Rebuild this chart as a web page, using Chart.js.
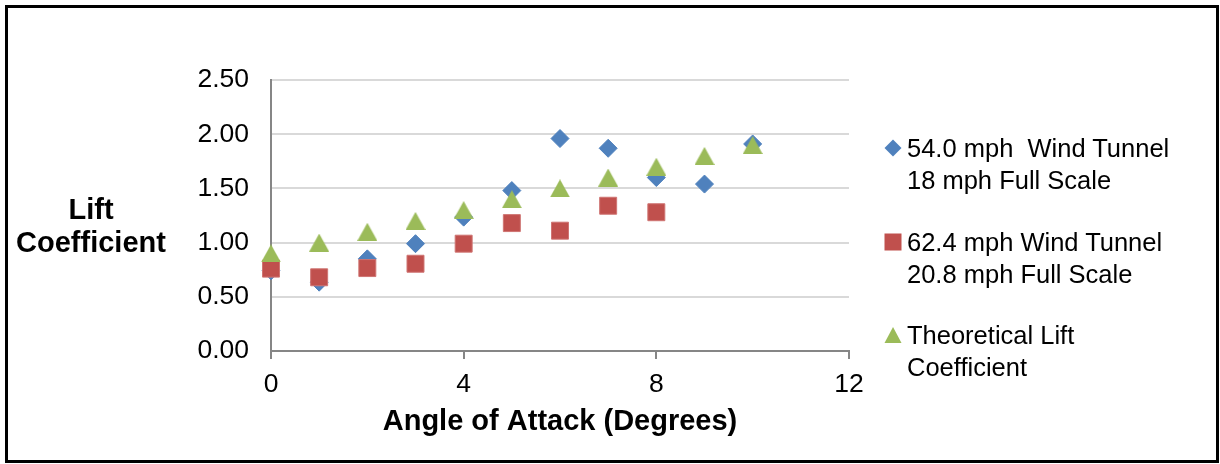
<!DOCTYPE html>
<html>
<head>
<meta charset="utf-8">
<script src="https://cdn.jsdelivr.net/npm/chart.js@4/dist/chart.umd.min.js"></script>
<style>
  html, body { margin: 0; padding: 0; background: #fff; }
  #wrap { position: relative; width: 1220px; height: 464px; overflow: hidden; font-family: "Liberation Sans", Arial, sans-serif; }
  #chart { position: absolute; left: 0; top: 0; }
  #frame { position: absolute; left: 5px; top: 5px; width: 1208px; height: 452px; border: 3px solid #000; pointer-events: none; }
  #ytitle { position: absolute; left: 11px; width: 160px; top: 193px; text-align: center; font-weight: bold; font-size: 29px; line-height: 33px; color: #000; }
  .leg { position: absolute; left: 907px; font-size: 25.5px; line-height: 32px; color: #000; white-space: pre; }
  .legm { position: absolute; left: 884px; }
</style>
</head>
<body>
<div id="wrap">
  <canvas id="chart" width="1220" height="464"></canvas>
  <div id="ytitle">Lift<br>Coefficient</div>
  <div id="legend"></div>
  <div id="frame"></div>
</div>
<script>
// ---- data ----
const angles = [0, 1, 2, 3, 4, 5, 6, 7, 8, 9, 10];
const wind54 = [0.74, 0.635, 0.85, 0.99, 1.235, 1.48, 1.96, 1.87, 1.60, 1.54, 1.91];
const wind62Angles = [0, 1, 2, 3, 4, 5, 6, 7, 8];
const wind62 = [0.76, 0.68, 0.765, 0.805, 0.99, 1.18, 1.11, 1.34, 1.28];
const theoretical = [0.9, 1.0, 1.1, 1.2, 1.3, 1.4, 1.5, 1.6, 1.7, 1.8, 1.9];
const seriesNames = [
  ["54.0 mph  Wind Tunnel", "18 mph Full Scale"],
  ["62.4 mph Wind Tunnel", "20.8 mph Full Scale"],
  ["Theoretical Lift", "Coefficient"]
];
const yTicks = [0, 0.5, 1.0, 1.5, 2.0, 2.5];
const xTicks = [0, 4, 8, 12];
const xTitle = "Angle of Attack (Degrees)";

const BLUE = '#4F81BD', RED = '#C0504D', GREEN = '#9BBB59';

function pts(xs, ys) { return xs.map((x, i) => ({ x: x, y: ys[i] })); }

// triangle marker centred on its bounding box
function triCanvas(w, h, color) {
  const c = document.createElement('canvas');
  c.width = w; c.height = h;
  const g = c.getContext('2d');
  g.fillStyle = color;
  g.beginPath();
  g.moveTo(w / 2, 0);
  g.lineTo(w, h);
  g.lineTo(0, h);
  g.closePath();
  g.fill();
  return c;
}
const triImg = triCanvas(20, 18, GREEN);

const ctx = document.getElementById('chart').getContext('2d');
new Chart(ctx, {
  type: 'scatter',
  data: {
    datasets: [
      { label: seriesNames[0].join(' '), data: pts(angles, wind54), pointStyle: 'rectRot', pointRadius: 9, pointHoverRadius: 9,
        backgroundColor: BLUE, borderColor: BLUE, borderWidth: 1, order: 3, clip: false },
      { label: seriesNames[1].join(' '), data: pts(wind62Angles, wind62), pointStyle: 'rect', pointRadius: 12, pointHoverRadius: 12,
        backgroundColor: RED, borderColor: '#CF7573', borderWidth: 1, order: 2, clip: false },
      { label: seriesNames[2].join(' '), data: pts(angles, theoretical), pointStyle: triImg, pointRadius: 10, pointHoverRadius: 10,
        backgroundColor: GREEN, borderColor: GREEN, borderWidth: 0, order: 1, clip: false }
    ]
  },
  options: {
    responsive: false,
    animation: false,
    events: [],
    layout: { padding: { left: 0, right: 371, top: 80, bottom: 0 } },
    plugins: { legend: { display: false }, tooltip: { enabled: false } },
    scales: {
      x: {
        type: 'linear', min: 0, max: 12,
        afterBuildTicks: s => { s.ticks = xTicks.map(v => ({ value: v })); },
        afterFit: s => { s.height = 113; },
        ticks: { color: '#000', font: { family: '"Liberation Sans", Arial, sans-serif', size: 26.5 }, padding: 10, maxRotation: 0,
                 callback: v => String(v) },
        grid: { drawOnChartArea: false, drawTicks: true, tickLength: 8, color: '#868686', lineWidth: 2 },
        border: { display: true, color: '#868686', width: 2 },
        title: { display: true, text: xTitle, color: '#000',
                 font: { family: '"Liberation Sans", Arial, sans-serif', size: 29, weight: 'bold' },
                 padding: { top: 0, bottom: 25 } }
      },
      y: {
        type: 'linear', min: 0, max: 2.5,
        afterBuildTicks: s => { s.ticks = yTicks.map(v => ({ value: v })); },
        afterFit: s => { s.width = 271; },
        ticks: { color: '#000', font: { family: '"Liberation Sans", Arial, sans-serif', size: 26.5 }, padding: 22,
                 callback: v => Number(v).toFixed(2) },
        grid: { drawTicks: false, color: c => (c.tick && c.tick.value === 0) ? 'rgba(0,0,0,0)' : '#D9D9D9', lineWidth: 2 },
        border: { display: true, color: '#868686', width: 2 }
      }
    }
  }
});

// ---- HTML legend (real text) ----
const legend = document.getElementById('legend');
const legendTops = [132, 226, 319];
const markerSvgs = [
  `<svg width="18" height="18"><polygon points="9,0.5 17.5,9 9,17.5 0.5,9" fill="${BLUE}"/></svg>`,
  `<svg width="18" height="18"><rect x="0.5" y="0.5" width="17" height="17" fill="${RED}"/></svg>`,
  `<svg width="18" height="18"><polygon points="9,1 17.5,17 0.5,17" fill="${GREEN}"/></svg>`
];
seriesNames.forEach((lines, i) => {
  const t = document.createElement('div');
  t.className = 'leg';
  t.style.top = legendTops[i] + 'px';
  t.textContent = lines.join('\n');
  legend.appendChild(t);
  const m = document.createElement('div');
  m.className = 'legm';
  m.style.top = (legendTops[i] + 16 - 9) + 'px';
  m.innerHTML = markerSvgs[i];
  legend.appendChild(m);
});
</script>
</body>
</html>
